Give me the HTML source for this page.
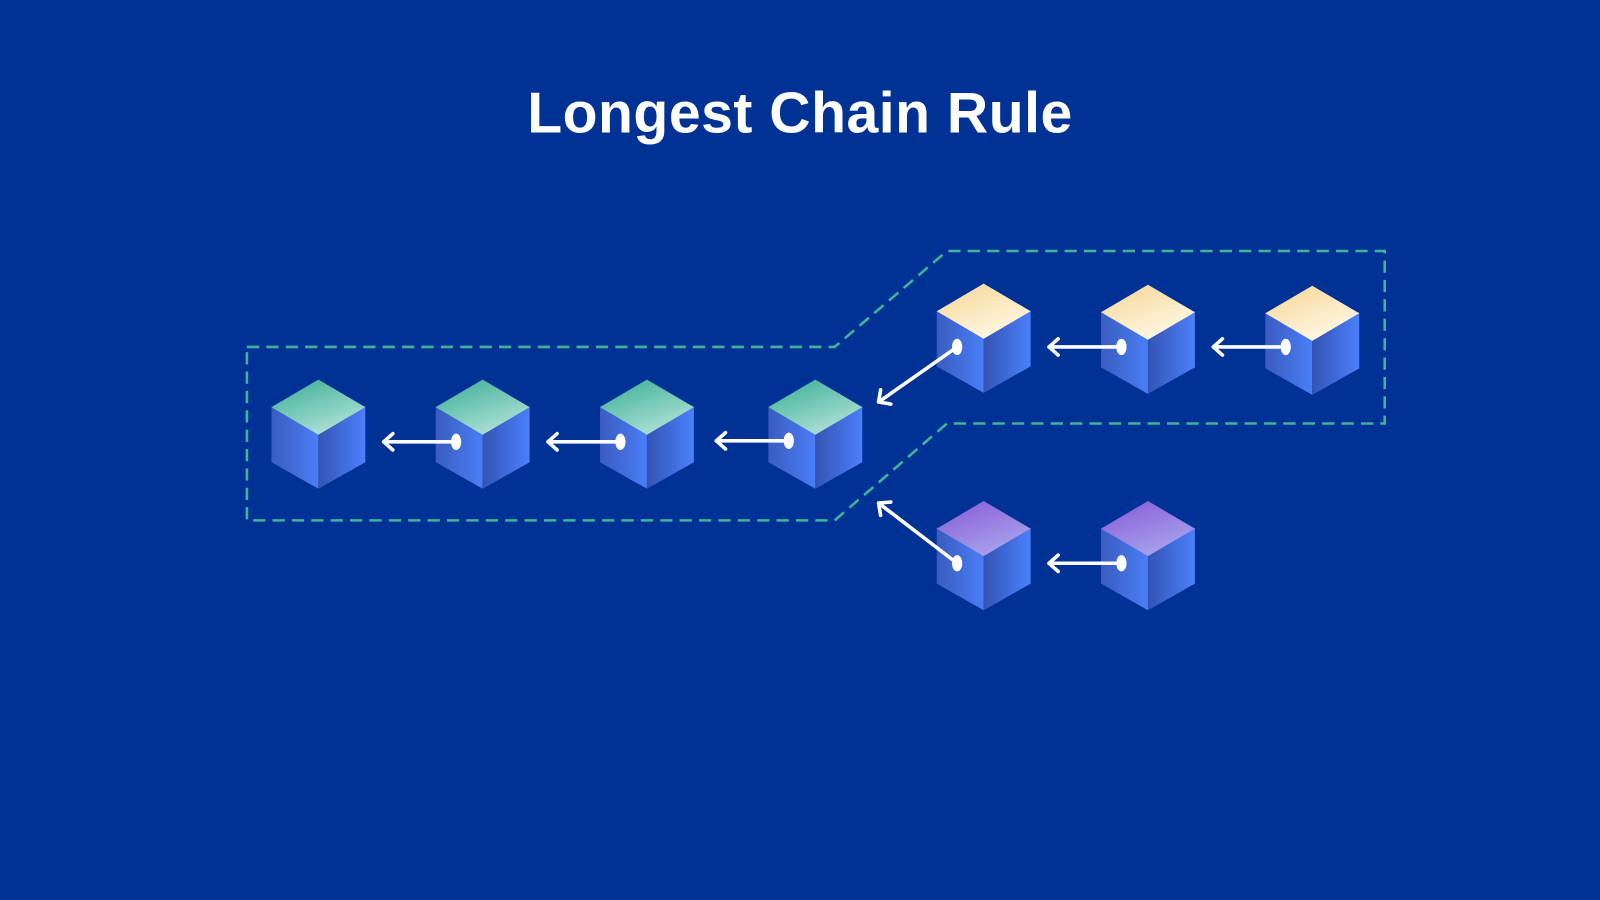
<!DOCTYPE html>
<html><head><meta charset="utf-8"><style>
html,body{margin:0;padding:0;background:#003296;}
svg{display:block}
</style></head><body>
<svg width="1600" height="900" viewBox="0 0 1568 882" preserveAspectRatio="none" xmlns="http://www.w3.org/2000/svg">
<defs>
<linearGradient id="lf" x1="0" y1="0" x2="1" y2="0"><stop offset="0" stop-color="#3a5cbf"/><stop offset="1" stop-color="#4a7ef7"/></linearGradient>
<linearGradient id="rf" x1="0" y1="0" x2="1" y2="0"><stop offset="0" stop-color="#3454b4"/><stop offset="1" stop-color="#4a80fc"/></linearGradient>
<linearGradient id="gt" x1="0" y1="0" x2="0.6" y2="1"><stop offset="0" stop-color="#36ad92"/><stop offset="1" stop-color="#aee0d6"/></linearGradient>
<linearGradient id="yt" x1="0" y1="0" x2="0.6" y2="1"><stop offset="0" stop-color="#f6d493"/><stop offset="1" stop-color="#fff8e4"/></linearGradient>
<linearGradient id="pt" x1="0" y1="0" x2="0.6" y2="1"><stop offset="0" stop-color="#8558d6"/><stop offset="1" stop-color="#a8a2ec"/></linearGradient>
<g id="c"><polygon points="-46,26 0,53 0,107 -46,81" fill="url(#lf)"/><polygon points="0,53 46,26 46,81 0,107" fill="url(#rf)"/></g>
</defs>
<rect width="1568" height="882" fill="#003296"/>
<text x="784" y="130" text-anchor="middle" font-family="Liberation Sans, sans-serif" font-weight="bold" font-size="56" letter-spacing="0.5" fill="#fff">Longest Chain Rule</text>
<path d="M242,340 H818 L928,246 H1357 V415 H928 L818,510 H242 Z" fill="none" stroke="#3fb59a" stroke-width="2.5" stroke-dasharray="12 7"/>
<g>
<use href="#c" x="312" y="372"/><polygon points="312,372 358,399 312,426 266,399" fill="url(#gt)"/>
<use href="#c" x="473" y="372"/><polygon points="473,372 519,399 473,426 427,399" fill="url(#gt)"/>
<use href="#c" x="634" y="372"/><polygon points="634,372 680,399 634,426 588,399" fill="url(#gt)"/>
<use href="#c" x="799" y="372"/><polygon points="799,372 845,399 799,426 753,399" fill="url(#gt)"/>
<use href="#c" x="964" y="278"/><polygon points="964,278 1010,305 964,332 918,305" fill="url(#yt)"/>
<use href="#c" x="1125" y="279"/><polygon points="1125,279 1171,306 1125,333 1079,306" fill="url(#yt)"/>
<use href="#c" x="1286" y="280"/><polygon points="1286,280 1332,307 1286,334 1240,307" fill="url(#yt)"/>
<use href="#c" x="964" y="491"/><polygon points="964,491 1010,518 964,545 918,518" fill="url(#pt)"/>
<use href="#c" x="1125" y="491"/><polygon points="1125,491 1171,518 1125,545 1079,518" fill="url(#pt)"/>
</g>
<g stroke="#fff" stroke-width="3.5" fill="none" stroke-linecap="round" stroke-linejoin="round">
<path d="M447,433 H376 M385,425 L376,433 L385,441"/>
<path d="M608,433 H537 M546,425 L537,433 L546,441"/>
<path d="M773,432 H702 M711,424 L702,432 L711,440"/>
<path d="M1099,340 H1028 M1037,332 L1028,340 L1037,348"/>
<path d="M1260,340 H1189 M1198,332 L1189,340 L1198,348"/>
<path d="M1099,552 H1028 M1037,544 L1028,552 L1037,560"/>
<path d="M938,340 L861,394 M863,382 L861,394 L873,396"/>
<path d="M938,552 L861,493 M863,505 L861,493 L873,492"/>
</g>
<g fill="#fff">
<ellipse cx="447" cy="433" rx="5" ry="8"/><ellipse cx="608" cy="433" rx="5" ry="8"/><ellipse cx="773" cy="432" rx="5" ry="8"/>
<ellipse cx="938" cy="340" rx="5" ry="8"/><ellipse cx="1099" cy="340" rx="5" ry="8"/><ellipse cx="1260" cy="340" rx="5" ry="8"/>
<ellipse cx="938" cy="552" rx="5" ry="8"/><ellipse cx="1099" cy="552" rx="5" ry="8"/>
</g>
</svg>
</body></html>
